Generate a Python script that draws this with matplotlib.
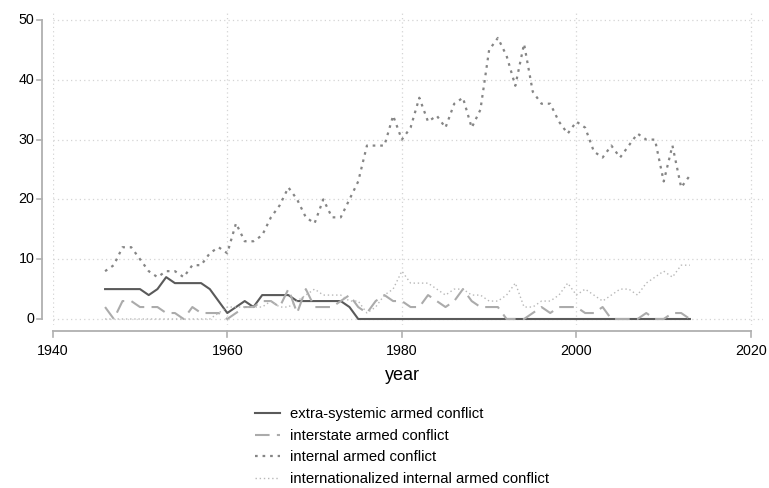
import matplotlib
matplotlib.use("Agg")
import matplotlib.pyplot as plt
from matplotlib.lines import Line2D

plt.rcParams['font.family'] = ['Liberation Sans', 'DejaVu Sans']

years = list(range(1946, 2014))
extrasystemic = [5, 5, 5, 5, 5, 4, 5, 7, 6, 6, 6, 6, 5, 3, 1, 2, 3, 2, 4, 4,
                 4, 4, 3, 3, 3, 3, 3, 3, 2, 0, 0, 0, 0, 0, 0, 0, 0, 0, 0, 0,
                 0, 0, 0, 0, 0, 0, 0, 0, 0, 0, 0, 0, 0, 0, 0, 0, 0, 0, 0, 0,
                 0, 0, 0, 0, 0, 0, 0, 0]
interstate = [2, 0, 3, 3, 2, 2, 2, 1, 1, 0, 2, 1, 1, 1, 0, 1, 2, 2, 3, 3,
              2, 5, 1, 5, 2, 2, 2, 3, 4, 2, 1, 3, 4, 3, 3, 2, 2, 4, 3, 2,
              3, 5, 3, 2, 2, 2, 0, 0, 0, 1, 2, 1, 2, 2, 2, 1, 1, 2, 0, 0,
              0, 0, 1, 0, 0, 1, 1, 0]
internal = [8, 9, 12, 12, 10, 8, 7, 8, 8, 7, 9, 9, 11, 12, 11, 16, 13, 13, 14, 17,
            19, 22, 20, 17, 16, 20, 17, 17, 20, 23, 29, 29, 29, 34, 30, 32, 37, 33, 34, 32,
            36, 37, 32, 35, 45, 47, 44, 39, 46, 38, 36, 36, 33, 31, 33, 32, 28, 27, 29, 27,
            29, 31, 30, 30, 23, 29, 22, 24]
internationalized = [0, 0, 0, 0, 0, 0, 0, 0, 0, 0, 0, 0, 0, 1, 2, 2, 2, 2, 2, 3,
                     2, 2, 3, 4, 5, 4, 4, 4, 3, 3, 1, 2, 4, 5, 8, 6, 6, 6, 5, 4,
                     5, 5, 4, 4, 3, 3, 4, 6, 2, 2, 3, 3, 4, 6, 4, 5, 4, 3, 4, 5,
                     5, 4, 6, 7, 8, 7, 9, 9]

labels = ["extra-systemic armed conflict", "interstate armed conflict",
          "internal armed conflict", "internationalized internal armed conflict"]
xticks = [1940, 1960, 1980, 2000, 2020]
yticks = [0, 10, 20, 30, 40, 50]

W, H = 769, 488
fig = plt.figure(figsize=(W / 100, H / 100), dpi=100)
L, R, T, B = 52.7, 763, 12, 325
ax = fig.add_axes([L / W, 1 - B / H, (R - L) / W, (B - T) / H])
px_per_year = (751 - 52.7) / 80.0
px_per_unit = (319 - 20) / 50.0
ax.set_xlim(1940, 1940 + (R - L) / px_per_year)
ax.set_ylim(-(B - 319) / px_per_unit, (319 - T) / px_per_unit)
for s in ax.spines.values():
    s.set_visible(False)
ax.set_xticks([])
ax.set_yticks([])

gridc = '#d4d4d4'
for yv in yticks:
    ax.axhline(yv, color=gridc, lw=0.9, ls=(0, (1, 2.5)), zorder=0)
for xv in xticks:
    ax.axvline(xv, color=gridc, lw=0.9, ls=(0, (1, 2.5)), zorder=0)

styles = [
    dict(color='#5a5a5a', lw=1.5, ls='-'),
    dict(color='#ababab', lw=1.5, ls=(0, (7, 3.5))),
    dict(color='#858585', lw=1.6, ls=(0, (1.2, 2.2))),
    dict(color='#b8b8b8', lw=1.0, ls=(0, (1, 2))),
]
series = [extrasystemic, interstate, internal, internationalized]
handles = []
for data, st, lab in zip(series, styles, labels):
    ax.plot(years, data, label=lab, zorder=3, **st)
    handles.append(Line2D([0], [0], **st))

axc = '#b0b0b0'
def fx(p):
    return p / W
def fy(p):
    return 1 - p / H

fig.add_artist(Line2D([fx(42), fx(42)], [fy(319), fy(20)], color=axc, lw=1.3))
for yv in yticks:
    ypix = 319 - yv * px_per_unit
    fig.add_artist(Line2D([fx(37), fx(42)], [fy(ypix), fy(ypix)], color=axc, lw=1.2))
    fig.text(fx(34.5), fy(ypix), str(yv), ha='right', va='center', fontsize=10.3)

fig.add_artist(Line2D([fx(52.7), fx(751)], [fy(331), fy(331)], color=axc, lw=1.3))
for xv in xticks:
    xpix = 52.7 + (xv - 1940) * px_per_year
    fig.add_artist(Line2D([fx(xpix), fx(xpix)], [fy(331), fy(337)], color=axc, lw=1.2))
    fig.text(fx(xpix), fy(351), str(xv), ha='center', va='center', fontsize=10.3)

fig.text(fx(402), fy(376), "year", ha='center', va='center', fontsize=13)

fig.legend(handles, labels, loc='upper left', bbox_to_anchor=(fx(255), fy(407)),
           frameon=False, fontsize=10.7, handlelength=1.7, handletextpad=0.65,
           labelspacing=0.52, borderaxespad=0, borderpad=0)

fig.savefig("out.png", dpi=100)
